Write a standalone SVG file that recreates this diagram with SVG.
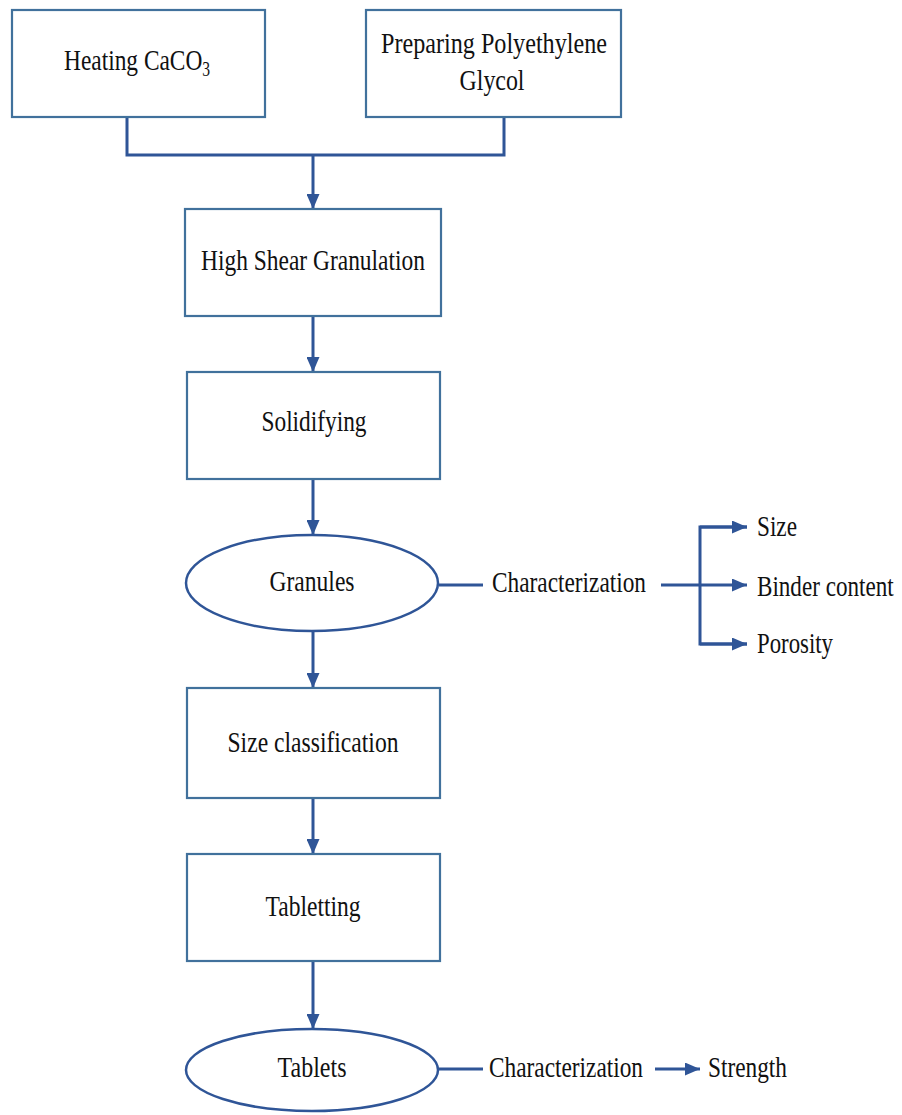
<svg xmlns="http://www.w3.org/2000/svg" width="902" height="1115" viewBox="0 0 902 1115" font-family="'Liberation Serif', 'DejaVu Serif', serif">
  <style>
    .box { fill: #ffffff; stroke: #41719C; stroke-width: 2.2; }
    .oval { fill: #ffffff; stroke: #2F5597; stroke-width: 2.5; }
    .wire { fill: none; stroke: #2F5597; stroke-width: 3; }
    .lbl { font-size: 30px; fill: #111111; }
    .mid { text-anchor: middle; }
  </style>
  <defs>
    <marker id="head" markerUnits="userSpaceOnUse" markerWidth="15" markerHeight="13" refX="15" refY="6.5" orient="auto">
      <path d="M0,0 L15,6.5 L0,13 z" fill="#2F5597"/>
    </marker>
  </defs>

  <rect width="902" height="1115" fill="#ffffff"/>

  <!-- connectors -->
  <g id="connectors">
    <path class="wire" d="M127,117 V155 H504 V117"/>
    <path class="wire" d="M313,155 V209" marker-end="url(#head)"/>
    <path class="wire" d="M313,316 V372" marker-end="url(#head)"/>
    <path class="wire" d="M313,479 V535" marker-end="url(#head)"/>
    <path class="wire" d="M313,632 V688" marker-end="url(#head)"/>
    <path class="wire" d="M313,798 V854" marker-end="url(#head)"/>
    <path class="wire" d="M313,961 V1029" marker-end="url(#head)"/>
    <!-- granule characterization -->
    <path class="wire" d="M439,585 H483"/>
    <path class="wire" d="M661,585 H747" marker-end="url(#head)"/>
    <path class="wire" d="M747,527 H700 V644 H747"/>
    <path class="wire" d="M700,527 H747" marker-end="url(#head)"/>
    <path class="wire" d="M700,644 H747" marker-end="url(#head)"/>
    <!-- tablet characterization -->
    <path class="wire" d="M438,1069 H483"/>
    <path class="wire" d="M655,1069 H700" marker-end="url(#head)"/>
  </g>

  <g id="heating">
    <rect class="box" x="12" y="10" width="253" height="107"/>
    <text class="lbl" transform="translate(64,70) scale(0.78,1)">Heating CaCO<tspan font-size="20" dy="6">3</tspan></text>
  </g>

  <g id="preparing">
    <rect class="box" x="366" y="10" width="255" height="107"/>
    <text class="lbl mid" x="494" y="53" textLength="226" lengthAdjust="spacingAndGlyphs">Preparing Polyethylene</text>
    <text class="lbl mid" x="492" y="90" textLength="65" lengthAdjust="spacingAndGlyphs">Glycol</text>
  </g>

  <g id="granulation">
    <rect class="box" x="185" y="209" width="256" height="107"/>
    <text class="lbl mid" x="313" y="270" textLength="224" lengthAdjust="spacingAndGlyphs">High Shear Granulation</text>
  </g>

  <g id="solidifying">
    <rect class="box" x="187" y="372" width="253" height="107"/>
    <text class="lbl mid" x="314" y="431" textLength="105" lengthAdjust="spacingAndGlyphs">Solidifying</text>
  </g>

  <g id="granules">
    <ellipse class="oval" cx="312" cy="583" rx="126" ry="48"/>
    <text class="lbl mid" x="312" y="591" textLength="85" lengthAdjust="spacingAndGlyphs">Granules</text>
  </g>

  <g id="granule-characterization">
    <text class="lbl" x="492" y="592" textLength="154" lengthAdjust="spacingAndGlyphs">Characterization</text>
  </g>

  <g id="size">
    <text class="lbl" x="757" y="536" textLength="40" lengthAdjust="spacingAndGlyphs">Size</text>
  </g>

  <g id="binder">
    <text class="lbl" transform="translate(757,596) scale(0.77,1)">Binder content</text>
  </g>

  <g id="porosity">
    <text class="lbl" x="757" y="653" textLength="76" lengthAdjust="spacingAndGlyphs">Porosity</text>
  </g>

  <g id="size-classification">
    <rect class="box" x="187" y="688" width="253" height="110"/>
    <text class="lbl mid" x="313" y="752" textLength="171" lengthAdjust="spacingAndGlyphs">Size classification</text>
  </g>

  <g id="tabletting">
    <rect class="box" x="187" y="854" width="253" height="107"/>
    <text class="lbl mid" x="313" y="916" textLength="95" lengthAdjust="spacingAndGlyphs">Tabletting</text>
  </g>

  <g id="tablets">
    <ellipse class="oval" cx="312" cy="1070" rx="126" ry="41"/>
    <text class="lbl mid" x="312" y="1077" textLength="69" lengthAdjust="spacingAndGlyphs">Tablets</text>
  </g>

  <g id="tablet-characterization">
    <text class="lbl" x="489" y="1077" textLength="154" lengthAdjust="spacingAndGlyphs">Characterization</text>
  </g>

  <g id="strength">
    <text class="lbl" x="708" y="1077" textLength="79" lengthAdjust="spacingAndGlyphs">Strength</text>
  </g>
</svg>
